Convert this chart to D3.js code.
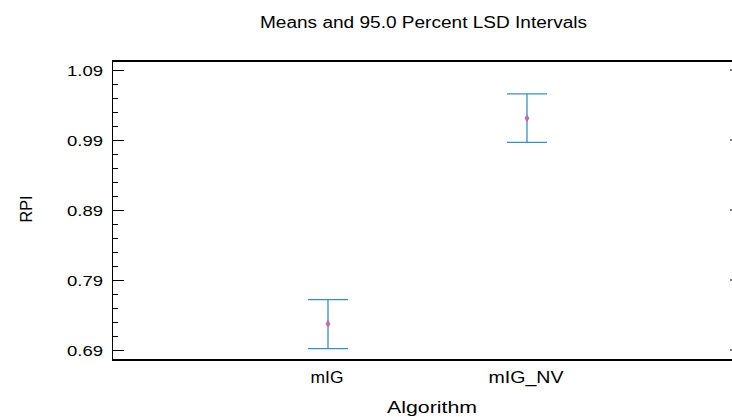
<!DOCTYPE html>
<html>
<head>
<meta charset="utf-8">
<script src="https://cdn.jsdelivr.net/npm/d3@7"></script>
<style>
  body { margin: 0; background: #fff; }
  text { font-family: "Liberation Sans", Arial, sans-serif; fill: #000; }
</style>
</head>
<body>
<div id="chart"></div>
<script>
// data
var categories = ["mIG", "mIG_NV"];
var means = [0.7276, 1.021];
var lower = [0.6919, 0.9867];
var upper = [0.762, 1.056];
var yTicks = [0.69, 0.79, 0.89, 0.99, 1.09];

var width = 732, height = 417;
var plotL = 112, plotR = 732, plotT = 61, plotB = 360;

var svg = d3.select("#chart").append("svg")
  .attr("width", width)
  .attr("height", height);

var y = d3.scaleLinear()
  .domain([0.6757, 1.1029])
  .range([plotB, plotT]);

// category index -> x position
var x = d3.scaleLinear()
  .domain([-1.0854, 2.0302])
  .range([plotL, plotR]);

// minor ticks every 0.02
var minor = d3.range(0, 22).map(function(i) { return +(0.69 + i * 0.02).toFixed(2); })
  .filter(function(v) { return yTicks.indexOf(v) < 0 && v <= 1.1; });

svg.append("g")
  .attr("transform", "translate(" + plotL + ",0)")
  .call(d3.axisRight(y).tickValues(minor).tickSize(6).tickFormat(""))
  .call(function(g) { g.select(".domain").remove(); });

svg.append("g")
  .attr("transform", "translate(" + plotL + ",0)")
  .call(d3.axisRight(y).tickValues(yTicks).tickSize(12).tickFormat(""))
  .call(function(g) { g.select(".domain").remove(); });

// y tick labels
svg.append("g").selectAll("text")
  .data(yTicks)
  .join("text")
  .attr("x", 103)
  .attr("y", function(d) { return y(d); })
  .attr("dy", "0.36em")
  .attr("text-anchor", "end")
  .attr("font-size", 15.5)
  .attr("textLength", 36)
  .attr("lengthAdjust", "spacingAndGlyphs")
  .text(function(d) { return d3.format(".2f")(d); });

// right side small ticks
svg.append("g").selectAll("line")
  .data(yTicks)
  .join("line")
  .attr("x1", plotR - 2).attr("x2", plotR)
  .attr("y1", function(d) { return y(d); })
  .attr("y2", function(d) { return y(d); })
  .attr("stroke", "#000");

// frame
svg.append("line").attr("x1", plotL + 0.5).attr("x2", plotL + 0.5)
  .attr("y1", plotT).attr("y2", plotB).attr("stroke", "#000");
svg.append("line").attr("x1", plotL).attr("x2", plotR)
  .attr("y1", plotT).attr("y2", plotT).attr("stroke", "#000").attr("stroke-width", 2);
svg.append("line").attr("x1", plotL).attr("x2", plotR)
  .attr("y1", plotB).attr("y2", plotB).attr("stroke", "#000").attr("stroke-width", 2);

// intervals
var iv = svg.append("g").selectAll("g")
  .data(categories)
  .join("g");

iv.append("line")
  .attr("x1", function(d, i) { return x(i); })
  .attr("x2", function(d, i) { return x(i); })
  .attr("y1", function(d, i) { return y(upper[i]); })
  .attr("y2", function(d, i) { return y(lower[i]); })
  .attr("stroke", "#3a8fc8").attr("stroke-width", 1.3);

iv.selectAll(".cap")
  .data(function(d, i) { return [[i, upper[i]], [i, lower[i]]]; })
  .join("line")
  .attr("class", "cap")
  .attr("x1", function(d) { return x(d[0]) - 20; })
  .attr("x2", function(d) { return x(d[0]) + 20; })
  .attr("y1", function(d) { return y(d[1]); })
  .attr("y2", function(d) { return y(d[1]); })
  .attr("stroke", "#3a8fc8").attr("stroke-width", 1.3);

iv.append("path")
  .attr("transform", function(d, i) { return "translate(" + x(i) + "," + y(means[i]) + ")"; })
  .attr("d", d3.symbol(d3.symbolDiamond, 20))
  .attr("fill", "#c06ca6");

// category labels
var catLen = [33, 75];
svg.append("g").selectAll("text")
  .data(categories)
  .join("text")
  .attr("x", function(d, i) { return x(i) - 1; })
  .attr("y", 383)
  .attr("text-anchor", "middle")
  .attr("font-size", 16.5)
  .attr("textLength", function(d, i) { return catLen[i]; })
  .attr("lengthAdjust", "spacingAndGlyphs")
  .text(function(d) { return d; });

svg.append("text")
  .attr("x", 423.5).attr("y", 28)
  .attr("text-anchor", "middle")
  .attr("font-size", 16)
  .attr("textLength", 327)
  .attr("lengthAdjust", "spacingAndGlyphs")
  .text("Means and 95.0 Percent LSD Intervals");

svg.append("text")
  .attr("x", 432).attr("y", 413)
  .attr("text-anchor", "middle")
  .attr("font-size", 16.5)
  .attr("textLength", 90)
  .attr("lengthAdjust", "spacingAndGlyphs")
  .text("Algorithm");

svg.append("text")
  .attr("transform", "translate(32,209) rotate(-90)")
  .attr("text-anchor", "middle")
  .attr("font-size", 16.5)
  .attr("textLength", 27)
  .attr("lengthAdjust", "spacingAndGlyphs")
  .text("RPI");
</script>
</body>
</html>
